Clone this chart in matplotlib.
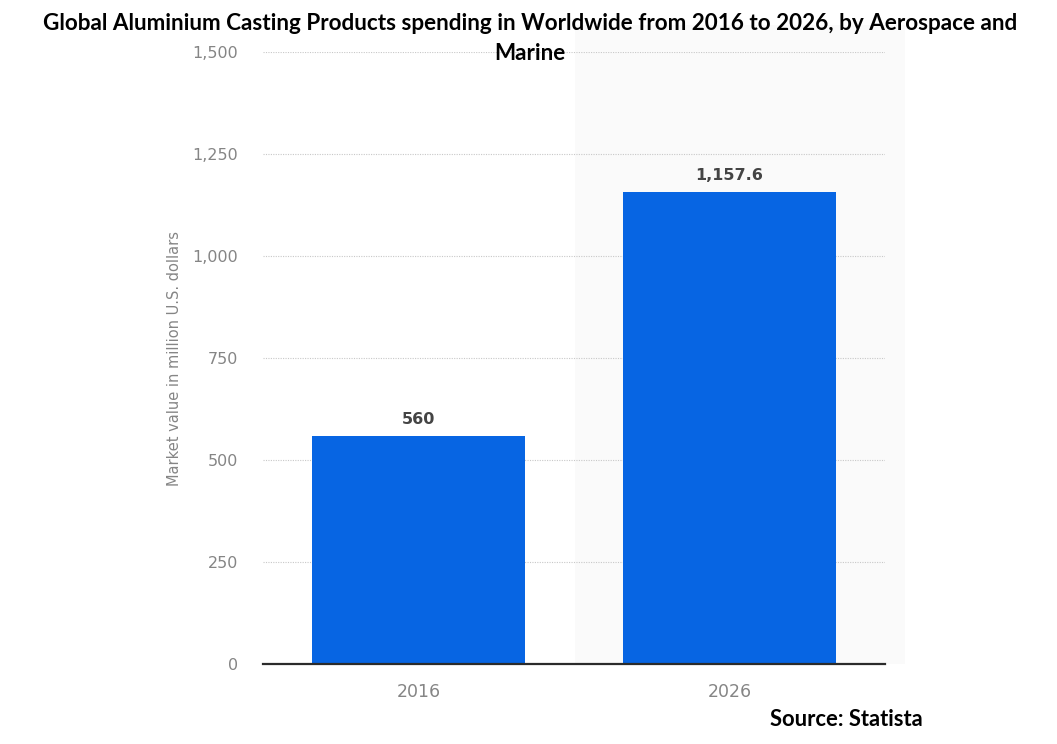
import numpy as np
import matplotlib
matplotlib.use('Agg')
import matplotlib.pyplot as plt
from matplotlib.patches import Rectangle

# ---- data ----
years = ['2016', '2026']
values = [560, 1157.6]
value_labels = ['560', '1,157.6']
yticks = [0, 250, 500, 750, 1000, 1250, 1500]
ytick_labels = ['0', '250', '500', '750', '1,000', '1,250', '1,500']

TITLE_1 = 'Global Aluminium Casting Products spending in Worldwide from 2016 to 2026, by Aerospace and'
TITLE_2 = 'Marine'
BAR_COLOR = '#0765e3'
GREY = '#858585'

fig = plt.figure(figsize=(10.57, 7.44), dpi=100)
W, H = 1057, 744

# faint shaded band behind the right half (as in the source screenshot)
band = Rectangle((575 / W, (H - 664) / H), (905 - 575) / W, (664 - 25) / H,
                 transform=fig.transFigure, facecolor='#fafafa',
                 edgecolor='none', zorder=-5)
fig.patches.append(band)

ax = fig.add_axes([263 / W, (H - 664) / H, (885 - 263) / W, (664 - 52) / H])
ax.set_facecolor('none')
x = np.arange(len(years))
ax.bar(x, values, width=0.688, color=BAR_COLOR, zorder=3)
for xi, v, lab in zip(x, values, value_labels):
    ax.text(xi, v + 22, lab, ha='center', va='bottom', fontsize=11.5,
            fontweight='bold', color='#444444', family='DejaVu Sans')

ax.set_xlim(-0.5, 1.5)
ax.set_ylim(0, 1500)
ax.set_yticks(yticks)
ax.set_yticklabels(ytick_labels)
ax.set_xticks(x)
ax.set_xticklabels(years)
ax.tick_params(axis='y', length=0, pad=18, labelsize=11.5, labelcolor=GREY)
ax.tick_params(axis='x', length=0, pad=14, labelsize=12.5, labelcolor=GREY)
ax.grid(axis='y', color='#c8c8c8', linestyle=(0, (1, 1.2)), linewidth=0.8, zorder=0)
for s in ['top', 'right', 'left']:
    ax.spines[s].set_visible(False)
ax.spines['bottom'].set_color('#2b2b2b')
ax.spines['bottom'].set_linewidth(1.6)
ax.spines['bottom'].set_zorder(4)
ax.set_ylabel('Market value in million U.S. dollars', fontsize=10.5, color=GREY)
ax.yaxis.set_label_coords(-(263 - 182) / (885 - 263), 0.5)

fig.text(530 / W, 1 - 24 / H, TITLE_1, ha='center', va='center', fontsize=16.2,
         fontweight='bold', family='Lato')
fig.text(530 / W, 1 - 54 / H, TITLE_2, ha='center', va='center', fontsize=16.2,
         fontweight='bold', family='Lato')
fig.text(923 / W, 1 - 720 / H, 'Source: Statista', ha='right', va='center',
         fontsize=15.8, fontweight='bold', family='Lato')

fig.savefig('out.png', dpi=100, facecolor='white')
